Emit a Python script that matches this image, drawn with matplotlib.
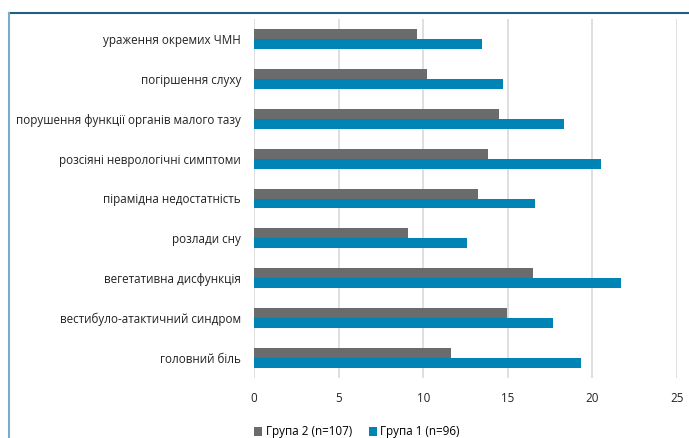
import matplotlib
matplotlib.use("Agg")
import matplotlib.pyplot as plt
from matplotlib.lines import Line2D
import numpy as np

plt.rcParams['font.family'] = ['Open Sans', 'DejaVu Sans']

categories = [
    "ураження окремих ЧМН",
    "погіршення слуху",
    "порушення функції органів малого тазу",
    "розсіяні неврологічні симптоми",
    "пірамідна недостатність",
    "розлади сну",
    "вегетативна дисфункція",
    "вестибуло-атактичний синдром",
    "головний біль",
]
group2 = [9.65, 10.2, 14.5, 13.85, 13.25, 9.1, 16.5, 14.95, 11.65]
group1 = [13.5, 14.7, 18.3, 20.5, 16.6, 12.6, 21.7, 17.65, 19.3]
series_names = ["Група 2 (n=107)", "Група 1 (n=96)"]
x_ticks = [0, 5, 10, 15, 20, 25]

grey = "#6a6b6d"
blue = "#0083b5"

fig = plt.figure(figsize=(6.89, 4.38), dpi=100)
W, H = 689, 438
ax = fig.add_axes([254 / W, 1 - 378 / H, (677 - 254) / W, (378 - 19) / H])

y = np.arange(len(categories))
h = 0.25
ax.barh(y - h / 2, group2, height=h, color=grey, label=series_names[0], zorder=3)
ax.barh(y + h / 2, group1, height=h, color=blue, label=series_names[1], zorder=3)

ax.set_ylim(len(categories) - 0.5, -0.5)
ax.set_xlim(0, 25)
ax.set_xticks(x_ticks)
ax.set_xticklabels([str(t) for t in x_ticks])
ax.set_yticks(y)
ax.set_yticklabels(categories)
ax.tick_params(axis='both', length=0, labelsize=8.4, colors="#222222")
ax.tick_params(axis='y', pad=9.4)
ax.tick_params(axis='x', pad=10)
ax.grid(axis='x', color="#d9d9d9", linewidth=1.2, zorder=0)
for s in ax.spines.values():
    s.set_visible(False)

leg = fig.legend(loc='center', bbox_to_anchor=(357 / W, 1 - 432 / H), ncol=2,
                 frameon=False, fontsize=8.4, handlelength=0.7, handleheight=0.7,
                 handletextpad=0.3, columnspacing=1.4)

# frame lines
fig.add_artist(Line2D([8.5 / W, 1], [1 - 13 / H, 1 - 13 / H], color="#1f5f82", linewidth=1.5))
fig.add_artist(Line2D([8.5 / W, 8.5 / W], [0, 1 - 13 / H], color="#7aaccb", linewidth=1.5))

fig.savefig("out.png", dpi=100)
